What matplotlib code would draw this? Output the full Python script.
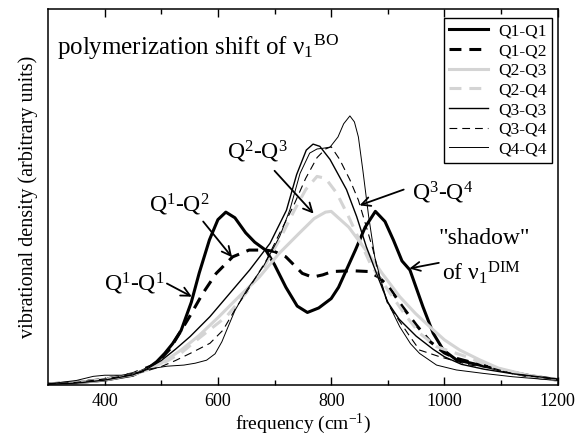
import numpy as np
import matplotlib
matplotlib.use('Agg')
import matplotlib.pyplot as plt

plt.rcParams['font.family'] = ['Liberation Serif', 'DejaVu Serif']
plt.rcParams['mathtext.fontset'] = 'custom'
plt.rcParams['mathtext.rm'] = 'Liberation Serif'
plt.rcParams['mathtext.it'] = 'Liberation Serif'

# frequency (cm-1) and density values, for each pair
q11_f = [300, 350, 400, 450, 476, 492, 506, 520, 535, 553, 567, 585, 600, 614, 630, 649, 665, 685, 700, 720, 740, 758,
         778, 800, 813, 828, 843, 860, 878, 895, 910, 925, 939, 962, 980, 998, 1021, 1062, 1100, 1150, 1200]
q11_y = [0.2, 0.6, 1.3, 2.6, 4.4, 6.2, 8.4, 11, 14.5, 22, 29.8, 38.6, 44, 46, 44.5, 40.5, 38, 35.8, 32, 26, 21, 19.3,
         20.5, 23, 26, 31, 36, 42, 46.2, 43.5, 38.5, 33, 30.6, 20.8, 13.8, 9.3, 6.7, 5.3, 4, 2.5, 1.4]

q12_f = [300, 350, 400, 450, 468, 490, 515, 550, 573, 597, 626, 655, 685, 700, 720, 749, 767, 785, 802, 837,
         865, 884, 902, 925, 950, 975, 1000, 1021, 1066, 1100, 1150, 1200]
q12_y = [0.3, 0.7, 1.5, 3, 4.2, 5.5, 9.5, 18.2, 24.3, 29.7, 34.1, 35.9, 35.9, 35.5, 34.1, 29.7, 28.7, 29.3, 30.2, 30.4,
         30.2, 28.7, 26.1, 21, 16, 11.5, 8.5, 7.1, 5.3, 4, 2.3, 1.3]

q23_f = [300, 350, 400, 450, 475, 500, 535, 567, 602, 637, 673, 708, 743, 770, 790, 800, 831, 861, 890, 921,
         949, 974, 1000, 1027, 1062, 1095, 1150, 1200]
q23_y = [0.2, 0.6, 1.4, 2.8, 4, 5.8, 9.3, 13.2, 18.2, 23.5, 28.7, 35, 40.3, 44.3, 46, 46.2, 42, 35.9, 29.7, 23.5,
         19, 15.5, 12, 9.3, 6.7, 4.5, 2.5, 1.2]

q24_f = [300, 350, 400, 450, 475, 500, 535, 567, 615, 650, 680, 710, 735, 755, 775, 790, 810, 830, 850, 870,
         890, 904, 933, 956, 986, 1039, 1080, 1130, 1200]
q24_y = [0.2, 0.6, 1.4, 2.8, 4, 5.5, 8.5, 12.5, 18.2, 24.5, 31, 39, 46.5, 52, 55.5, 55, 51, 45, 38.5, 32,
         27.5, 24.4, 18.2, 13.8, 10.2, 7.5, 5, 3, 1.5]

q33_f = [300, 350, 400, 450, 475, 500, 525, 551, 586, 621, 656, 692, 721, 739, 756, 768, 780, 798, 827, 845,
         862, 880, 900, 920, 950, 980, 1000, 1030, 1070, 1120, 1200]
q33_y = [0.2, 0.5, 1.3, 2.7, 4.3, 6.5, 9.5, 12.9, 18.2, 24.4, 30.6, 37.7, 46.5, 56, 62.5, 64.1, 63.5, 60, 52, 44.8,
         36.8, 29.7, 22, 17.5, 13, 9.5, 7.5, 5.5, 4.2, 3, 1.6]

q34_f = [300, 350, 400, 450, 475, 500, 525, 551, 586, 609, 633, 657, 686, 709, 733, 755, 775, 790, 800, 815,
         833, 848, 862, 874, 886, 900, 915, 939, 956, 992, 1045, 1085, 1120, 1200]
q34_y = [0.3, 0.7, 1.6, 2.8, 3.8, 4.9, 6.5, 8.4, 11.1, 14.6, 20.8, 26.2, 33.3, 40.4, 47.5, 55, 60.5, 62.8, 63.4, 60,
         54.6, 49.2, 42.1, 35.9, 28, 21.5, 18.2, 12.9, 9.3, 7.5, 5.3, 4.5, 3, 1.4]

q44_f = [300, 350, 380, 400, 430, 460, 480, 510, 540, 560, 580, 595, 607, 618, 630, 651, 680, 709, 727, 745, 762,
         775, 786, 798, 812, 822, 833, 841, 848, 856, 866, 877, 886, 898, 921, 940, 956, 986, 1021, 1068, 1120, 1200]
q44_y = [0.3, 1.2, 2.3, 2.6, 2.6, 3.4, 4.3, 5, 5.3, 5.8, 6.6, 8.3, 11.5, 15.5, 19.8, 25.3, 31.5, 39.5, 46.6, 56.3, 61.7,
         62.8, 63, 63.3, 66, 69.5, 71.6, 70, 66, 57, 45, 34, 28.8, 22.6, 15.5, 11, 8.4, 5.3, 4, 3.1, 2.2, 1.2]

labels = ['Q1-Q1', 'Q1-Q2', 'Q2-Q3', 'Q2-Q4', 'Q3-Q3', 'Q3-Q4', 'Q4-Q4']

fig = plt.figure(figsize=(5.78, 4.37), dpi=100)
ax = fig.add_axes([0.083, 0.119, 0.882, 0.860])

gray = '#d4d4d4'
ax.plot(q11_f, q11_y, color='black', lw=2.2, label=labels[0])
ax.plot(q12_f, q12_y, color='black', lw=2.2, ls=(0, (3.9, 2.6)), label=labels[1])
ax.plot(q23_f, q23_y, color=gray, lw=2.2, label=labels[2])
ax.plot(q24_f, q24_y, color=gray, lw=2.2, ls=(0, (3.9, 2.6)), label=labels[3])
ax.plot(q33_f, q33_y, color='black', lw=1.0, label=labels[4])
ax.plot(q34_f, q34_y, color='black', lw=0.8, ls=(0, (7, 4.5)), label=labels[5])
ax.plot(q44_f, q44_y, color='black', lw=0.7, label=labels[6])

ax.set_xlim(300, 1200)
ax.set_ylim(0, 100)
ax.set_xticks([400, 600, 800, 1000, 1200])
ax.set_xticks([500, 700, 900, 1100], minor=True)
ax.set_yticks([])
ax.tick_params(axis='x', which='major', direction='in', length=6, width=1, top=True, labelsize=13, pad=6)
ax.tick_params(axis='x', which='minor', direction='in', length=3.5, width=1, top=True)
for s in ax.spines.values():
    s.set_linewidth(1.1)

ax.set_xlabel('frequency (cm$^{-1}$)', fontsize=14, labelpad=1)
ax.set_ylabel('vibrational density (arbitrary units)', fontsize=14.5, labelpad=7)

leg = ax.legend(loc='upper right', bbox_to_anchor=(0.988, 0.976), fontsize=12.5, frameon=True,
                fancybox=False, edgecolor='black', framealpha=1, borderaxespad=0, borderpad=0.3,
                handlelength=2.2, handletextpad=0.6, labelspacing=0.2)
leg.get_frame().set_linewidth(1.0)

# annotations
ax.text(316, 87.8, r'polymerization shift of $\mathrm{ν}_1{}^{\mathrm{BO}}$', fontsize=18, va='baseline', ha='left')
ax.text(453, 27, r'Q$^1$-Q$^1$', fontsize=17, ha='center', va='center')
ax.text(531, 48, r'Q$^1$-Q$^2$', fontsize=17, ha='center', va='center')
ax.text(670, 62, r'Q$^2$-Q$^3$', fontsize=17, ha='center', va='center')
ax.text(997, 51, r'Q$^3$-Q$^4$', fontsize=17, ha='center', va='center')
ax.text(1070, 39, '"shadow"', fontsize=17, ha='center', va='center')
ax.text(1066, 30, r'of $\mathrm{ν}_1{}^{\mathrm{DIM}}$', fontsize=17, ha='center', va='center')

arr = dict(arrowstyle='->', lw=1.3, color='black', mutation_scale=16, shrinkA=0, shrinkB=0)
ax.annotate('', xy=(554, 23.5), xytext=(510, 27), arrowprops=arr)
ax.annotate('', xy=(625, 34), xytext=(574, 43.5), arrowprops=arr)
ax.annotate('', xy=(769, 45.6), xytext=(700, 57), arrowprops=arr)
ax.annotate('', xy=(850, 47.8), xytext=(928, 52), arrowprops=arr)
ax.annotate('', xy=(938, 31), xytext=(990, 32.5), arrowprops=arr)

fig.savefig('out.png', dpi=100)
